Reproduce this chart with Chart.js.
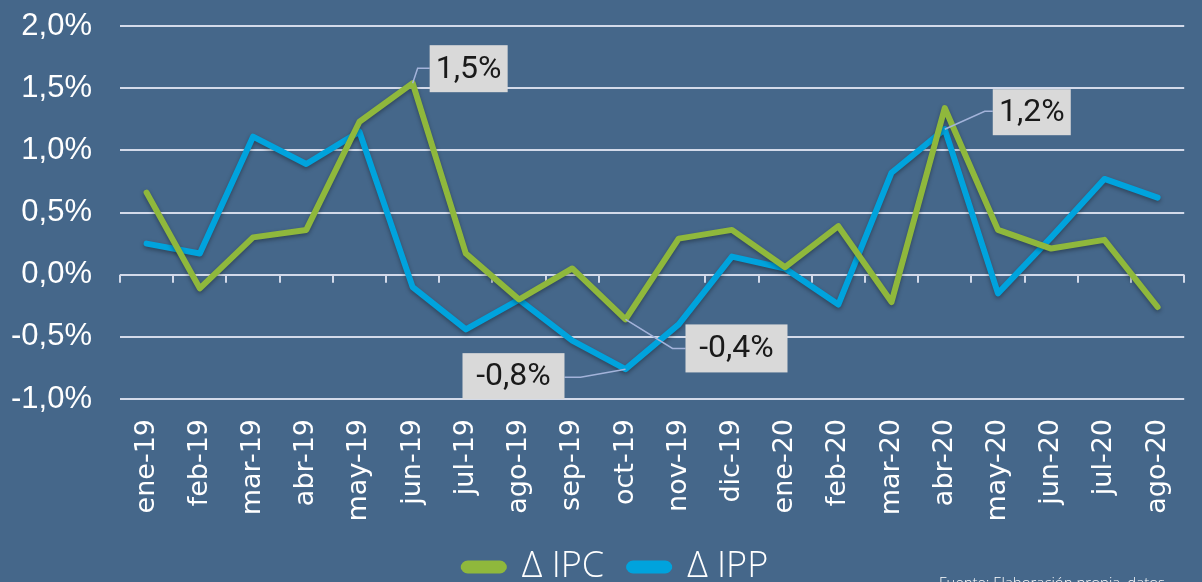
<!DOCTYPE html>
<html>
<head>
<meta charset="utf-8">
<script src="https://cdn.jsdelivr.net/npm/chart.js@4.4.0/dist/chart.umd.min.js"></script>
<style>
  html, body { margin: 0; padding: 0; background: #45678a; overflow: hidden; }
  .chartBox { width: 1202px; height: 582px; overflow: hidden; }
</style>
</head>
<body>
<div class="chartBox"><canvas id="myChart" width="1202" height="595"></canvas></div>
<script>
// data
const months = ['ene-19', 'feb-19', 'mar-19', 'abr-19', 'may-19', 'jun-19', 'jul-19', 'ago-19', 'sep-19', 'oct-19',
                'nov-19', 'dic-19', 'ene-20', 'feb-20', 'mar-20', 'abr-20', 'may-20', 'jun-20', 'jul-20', 'ago-20'];
const ipc = [0.66, -0.11, 0.30, 0.36, 1.23, 1.54, 0.17, -0.20, 0.05, -0.36,
             0.29, 0.36, 0.06, 0.39, -0.22, 1.34, 0.36, 0.21, 0.28, -0.26];
const ipp = [0.25, 0.17, 1.11, 0.89, 1.15, -0.10, -0.44, -0.20, -0.53, -0.76,
             -0.40, 0.145, 0.05, -0.24, 0.82, 1.17, -0.15, 0.30, 0.77, 0.62];
const yMin = -1, yMax = 2, yStep = 0.5;
const sourceText = 'Fuente: Elaboración propia, datos';

const fmt = v => v.toFixed(1).replace('.', ',') + '%';

// callouts: which point, box offset from the point [dx, dy, w, h], elbow of the leader line
const callouts = [
  { ds: 0, i: 5,  box: [17, -38, 78, 47],   elbow: [5, -15] },
  { ds: 1, i: 9,  box: [-163, -16, 102, 46], elbow: [-45, 8] },
  { ds: 0, i: 9,  box: [60, 5, 102, 48],    elbow: [47, 29] },
  { ds: 1, i: 15, box: [48, -40, 78, 46],   elbow: [40, -18] }
];

const gridColor = '#d3daea';

const extras = {
  id: 'extras',
  afterLayout(chart) {
    // legend sits a little right of centre in the original
    chart.legend.left += 15;
    chart.legend.right += 15;
  },
  beforeDatasetsDraw(chart) {
    const {ctx, scales: {x, y}} = chart;
    // tick marks on the zero line
    const y0 = y.getPixelForValue(0);
    const step = x.getPixelForValue(1) - x.getPixelForValue(0);
    ctx.save();
    ctx.strokeStyle = gridColor;
    ctx.lineWidth = 2;
    for (let i = 0; i <= months.length; i++) {
      const px = Math.round(x.getPixelForValue(0) - step / 2 + i * step);
      ctx.beginPath();
      ctx.moveTo(px, y0);
      ctx.lineTo(px, y0 + 8);
      ctx.stroke();
    }
    ctx.restore();
    // soft shadow under the lines
    ctx.save();
    ctx.shadowColor = 'rgba(0,0,0,0.35)';
    ctx.shadowBlur = 4;
    ctx.shadowOffsetY = 2;
  },
  afterDatasetsDraw(chart) {
    const {ctx} = chart;
    ctx.restore();
    callouts.forEach(c => {
      const pt = chart.getDatasetMeta(c.ds).data[c.i];
      const px = pt.x, py = pt.y;
      const [dx, dy, w, h] = c.box;
      const bx = px + dx, by = py + dy;
      const ex = px + c.elbow[0], ey = py + c.elbow[1];
      const edge = dx > 0 ? bx : bx + w;
      ctx.save();
      ctx.strokeStyle = '#a3b3da';
      ctx.lineWidth = 1.5;
      ctx.beginPath();
      ctx.moveTo(px, py);
      ctx.lineTo(ex, ey);
      ctx.lineTo(edge, ey);
      ctx.stroke();
      ctx.fillStyle = '#d9d9d9';
      ctx.fillRect(bx, by, w, h);
      ctx.fillStyle = '#1a1a1a';
      ctx.font = '32px Roboto';
      ctx.textAlign = 'center';
      ctx.textBaseline = 'middle';
      const val = chart.data.datasets[c.ds].data[c.i];
      ctx.fillText(fmt(val), bx + w / 2, by + h / 2 + 1);
      ctx.restore();
    });
  },
  afterDraw(chart) {
    const {ctx} = chart;
    ctx.save();
    ctx.fillStyle = '#ffffff';
    ctx.font = '300 15px "Open Sans"';
    ctx.textAlign = 'left';
    ctx.textBaseline = 'alphabetic';
    ctx.fillText(sourceText, 939, 588);
    ctx.restore();
  }
};

const data = {
  labels: months,
  datasets: [{
    label: '\u0394 IPC',
    data: ipc,
    borderColor: '#8fb83c',
    backgroundColor: '#8fb83c',
    borderWidth: 6,
    pointRadius: 0,
    tension: 0,
    borderCapStyle: 'round',
    borderJoinStyle: 'round'
  },
  {
    label: '\u0394 IPP',
    data: ipp,
    borderColor: '#00a3dd',
    backgroundColor: '#00a3dd',
    borderWidth: 6,
    pointRadius: 0,
    tension: 0,
    borderCapStyle: 'round',
    borderJoinStyle: 'round'
  }]
};

const config = {
  type: 'line',
  data,
  options: {
    responsive: false,
    animation: false,
    layout: { padding: { top: 26, left: 0, right: 0, bottom: 0 } },
    scales: {
      x: {
        offset: true,
        grid: { display: false },
        border: { display: false },
        ticks: {
          color: '#ffffff',
          font: { family: '"DejaVu Sans"', size: 27 },
          minRotation: 90,
          maxRotation: 90,
          autoSkip: false,
          padding: 12
        },
        afterFit(scale) { scale.height = 125; }
      },
      y: {
        min: yMin,
        max: yMax,
        grid: { color: gridColor, lineWidth: 2, drawTicks: true, tickLength: 28, tickColor: 'rgba(0,0,0,0)' },
        border: { display: false },
        ticks: {
          stepSize: yStep,
          color: '#ffffff',
          font: { family: '"Liberation Sans"', size: 31 },
          padding: 0,
          callback: v => fmt(v)
        },
        afterFit(scale) { scale.width = 120; }
      }
    },
    plugins: {
      legend: {
        position: 'bottom',
        labels: {
          color: '#ffffff',
          font: { family: '"Open Sans"', size: 36, weight: '300' },
          boxWidth: 40,
          boxHeight: 7,
          useBorderRadius: true,
          borderRadius: 4,
          padding: 25
        }
      },
      tooltip: { enabled: false }
    }
  },
  plugins: [extras]
};

const myChart = new Chart(document.getElementById('myChart'), config);
</script>
</body>
</html>
